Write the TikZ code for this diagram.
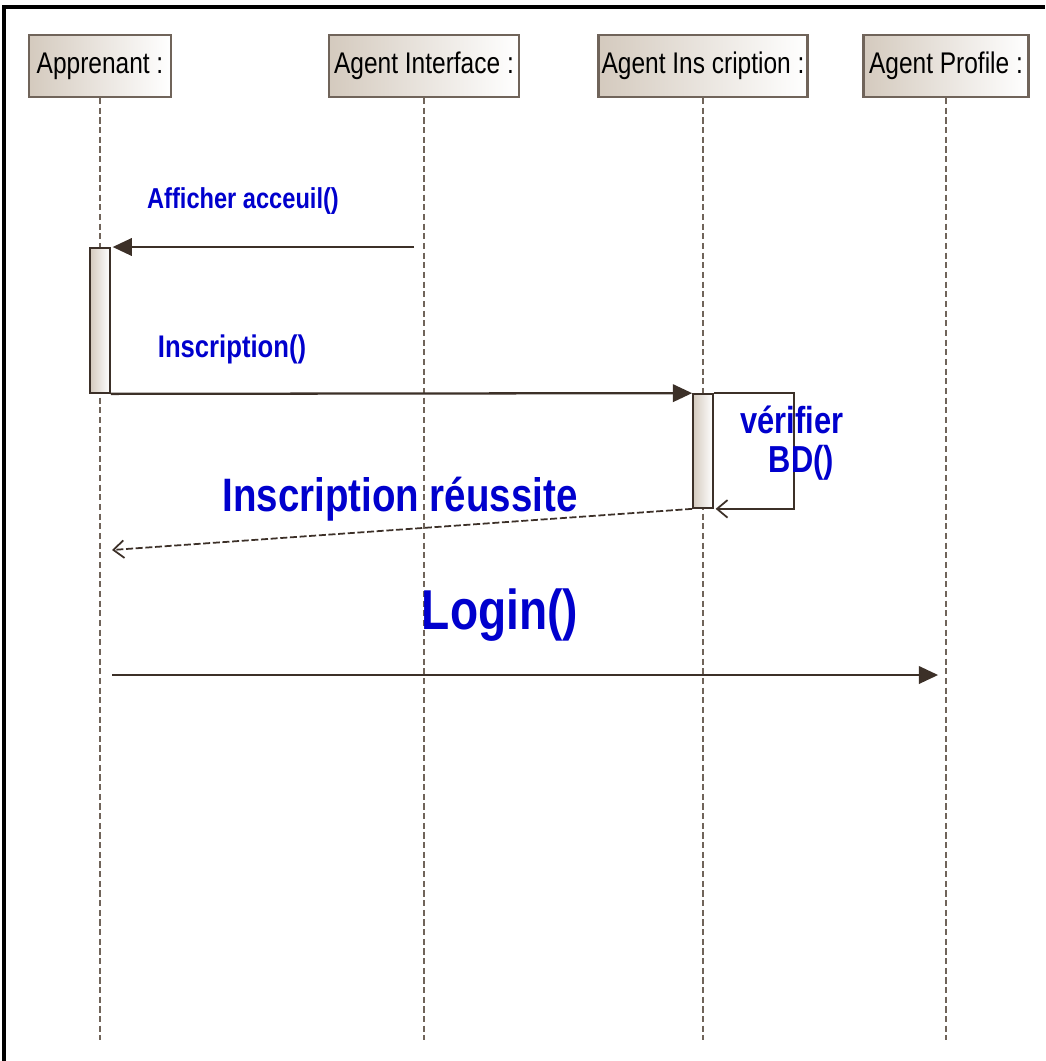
\documentclass[tikz,border=0pt]{standalone}
\usepackage{fontspec}
\setmainfont{Liberation Sans}[FakeStretch=0.82]
\usetikzlibrary{arrows.meta}
\definecolor{trait}{RGB}{60,48,40}
\definecolor{bord}{RGB}{112,100,90}
\definecolor{beige}{RGB}{212,202,190}
\definecolor{bleu}{RGB}{0,0,205}
\tikzset{
	acteur/.style={draw=bord, line width=1.2pt, left color=beige, right color=white, minimum height=1.24cm, inner sep=0pt, font=\fontsize{17}{20}\selectfont},
	vie/.style={draw=bord, line width=0.9pt, dash pattern=on 3.5pt off 2pt},
	activ/.style={draw=trait, line width=1pt, left color=beige, right color=white, minimum width=0.4cm, inner sep=0pt},
	appel/.style={draw=trait, line width=1.3pt, -{Triangle[length=11pt,width=10pt]}},
	retour/.style={draw=trait, line width=1pt, dash pattern=on 4pt off 1.5pt, -{Straight Barb[length=6pt,width=10pt]}},
	msg/.style={text=bleu, font=\bfseries, inner sep=0pt}
}
\begin{document}
\begin{tikzpicture}[x=0.02cm, y=-0.02cm]
	\useasboundingbox (0,0) rectangle (1045,1061);
	% Cadre
		\draw[line width=1.9pt] (4,1061) -- (4,7) -- (1045,7);
	% Objets
		\node[acteur, minimum width=2.84cm] (app) at (100,66) {Apprenant :};
		\node[acteur, minimum width=3.8cm] (inter) at (424,66) {Agent Interface :};
		\node[acteur, minimum width=4.18cm] (insc) at (703,66) {Agent Ins cription :};
		\node[acteur, minimum width=3.3cm] (prof) at (946,66) {Agent Profile :};
	% Lignes de vie
		\coordinate (fin) at (0,1040);
		\draw[vie] (app.south) -- (app.south |- fin);
		\draw[vie] (inter.south) -- (inter.south |- fin);
		\draw[vie] (insc.south) -- (insc.south |- fin);
		\draw[vie] (prof.south) -- (prof.south |- fin);
	% Activations
		\node[activ, minimum height=2.9cm] (act1) at (100,320.5) {};
		\node[activ, minimum height=2.28cm] (act2) at (703,451) {};
	% Messages
		\coordinate (m1) at (414,247);
		\draw[appel, shorten >=1pt] (m1) -- (act1.north east |- m1);
		\draw[appel] (act1.south east) -- (act2.north west);
		\draw[draw=trait, line width=1pt, -{Straight Barb[length=6pt,width=10pt]}] (act2.north east) -- ++(80,0) |- ([xshift=1pt]act2.south east);
		\coordinate (r1) at (112,550);
		\draw[retour] (act2.south west) -- (r1);
		\coordinate (l1) at (112,675);
		\draw[appel, shorten >=4.5pt] (l1) -- (prof.south |- l1);
	% Etiquettes
		\node[msg, font=\bfseries\fontsize{16.4}{19}\selectfont] (t1) at (243,201) {Afficher acceuil()};
		\node[msg, font=\bfseries\fontsize{17.8}{20}\selectfont] (t2) at (232,349) {Inscription()};
		\node[msg, font=\bfseries\fontsize{21.4}{24}\selectfont, align=center] (t3) at (792,443) {vérifier\\[-2pt]\hspace*{0.5em}BD()};
		\node[msg, font=\bfseries\fontsize{26.7}{30}\selectfont] (t4) at (400,499) {Inscription réussite};
		\node[msg, font=\bfseries\fontsize{32}{36}\selectfont] (t5) at (500,615) {Login()};
\end{tikzpicture}
\end{document}
